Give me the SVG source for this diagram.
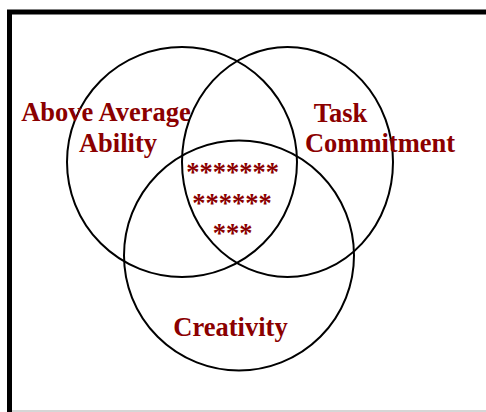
<svg xmlns="http://www.w3.org/2000/svg" width="486" height="412" viewBox="0 0 486 412">
<style>
.c{fill:none;stroke:#000;stroke-width:2}
.t{font-family:"Liberation Serif","Times New Roman",serif;font-weight:bold;font-size:26.5px;fill:#8b0000}
</style>
<rect x="0" y="0" width="486" height="412" fill="#fff"/>
<g id="frame">
<path d="M9.5 412 V12 H486" fill="none" stroke="#000" stroke-width="5"/>
<line x1="12" y1="411" x2="486" y2="411" stroke="#c8c8c8" stroke-width="1.5"/>
</g>
<g id="connectors"></g>
<g id="ability">
<circle class="c" cx="182" cy="162" r="115"/>
<text class="t" x="106" y="121" text-anchor="middle">Above Average</text>
<text class="t" x="118" y="152" text-anchor="middle">Ability</text>
</g>
<g id="task">
<ellipse class="c" cx="287.5" cy="162" rx="105.5" ry="115"/>
<text class="t" x="340.5" y="122" text-anchor="middle">Task</text>
<text class="t" x="380" y="152" text-anchor="middle">Commitment</text>
</g>
<g id="creativity">
<circle class="c" cx="239" cy="255.5" r="115"/>
<text class="t" x="230.5" y="336" text-anchor="middle">Creativity</text>
</g>
<g id="center">
<text class="t" x="232.5" y="180.5" text-anchor="middle">*******</text>
<text class="t" x="232" y="211.5" text-anchor="middle">******</text>
<text class="t" x="232.5" y="241.5" text-anchor="middle">***</text>
</g>
</svg>
